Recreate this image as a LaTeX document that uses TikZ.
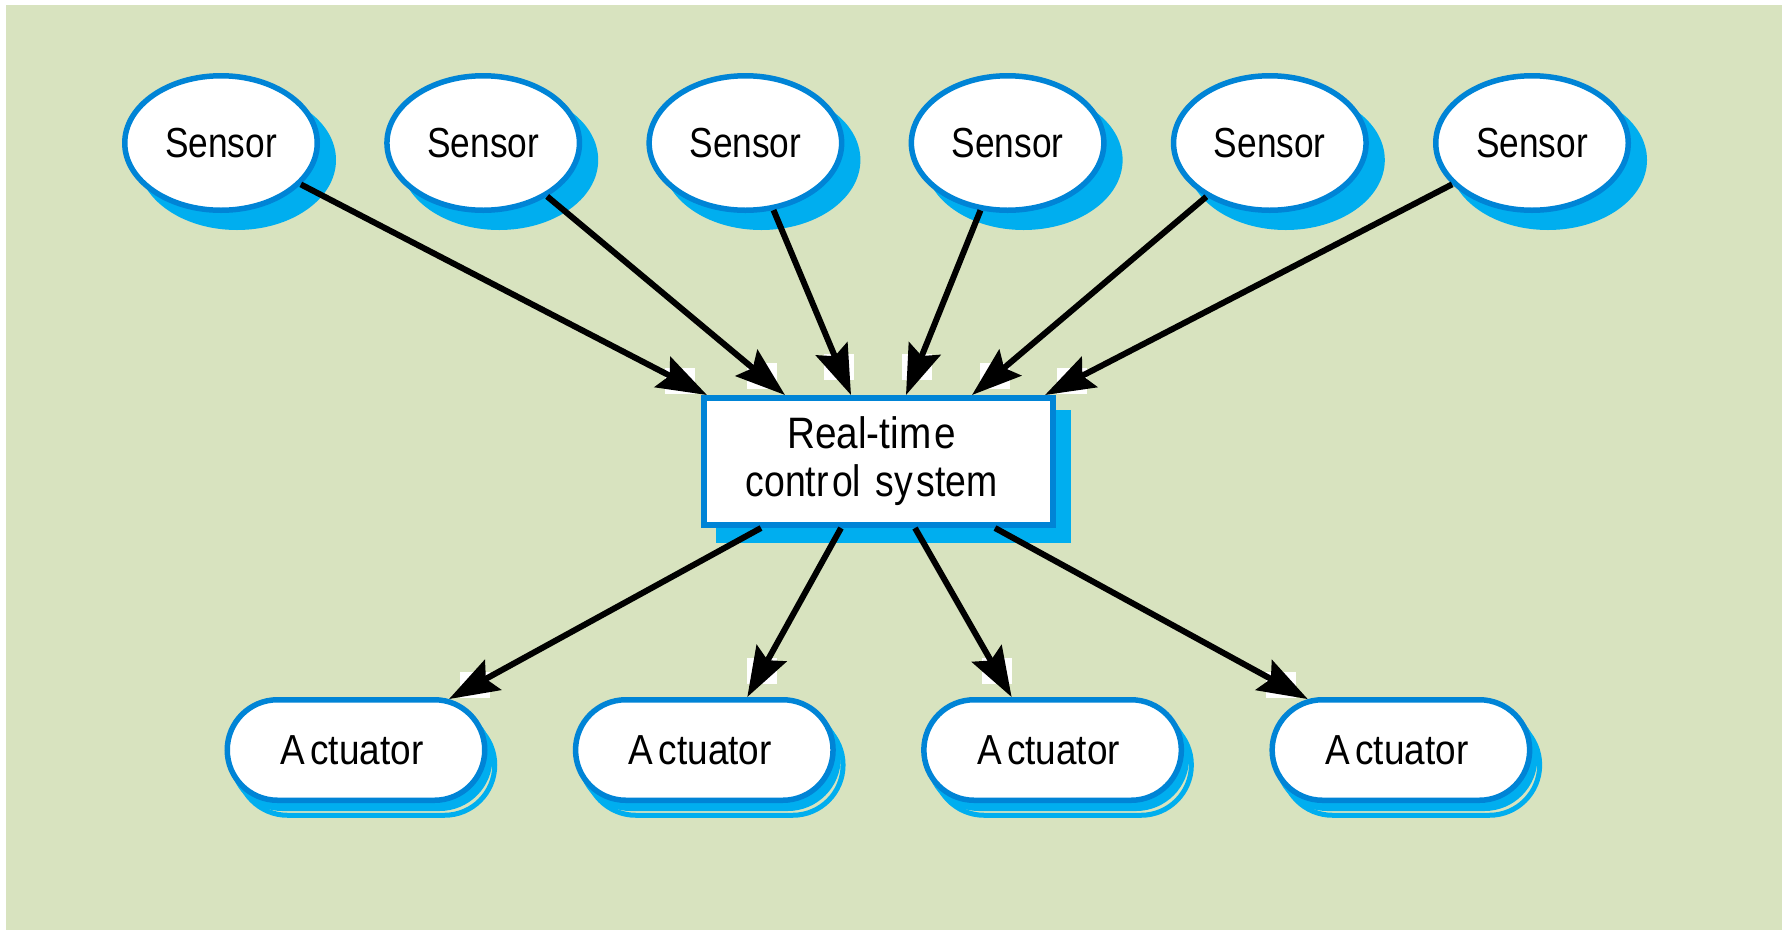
\documentclass[tikz,border=0pt]{standalone}
\usepackage{fontspec}
\setmainfont{Liberation Sans}
\usetikzlibrary{shapes.geometric,shapes.misc,shadows,arrows.meta,decorations.markings,calc}
\definecolor{bggreen}{RGB}{216,227,191}
\definecolor{rimblue}{RGB}{0,132,214}
\definecolor{skycyan}{RGB}{0,174,239}

\begin{document}
\begin{tikzpicture}[x=1pt,y=-1pt,
  sensor/.style={ellipse, draw=rimblue, line width=5.5pt, fill=white,
    minimum width=192.5pt, minimum height=134.5pt, inner sep=0pt,
    font=\fontsize{42}{48}\selectfont,
    general shadow={shadow xshift=16pt, shadow yshift=-17pt,
      fill=skycyan, draw=skycyan, line width=5.5pt}},
  rtbox/.style={rectangle, draw=rimblue, line width=6pt, fill=white,
    minimum width=349pt, minimum height=127pt, inner sep=0pt, align=center,
    font=\fontsize{44}{50}\selectfont,
    general shadow={shadow xshift=15pt, shadow yshift=-15pt,
      fill=skycyan, draw=skycyan, line width=6pt}},
  actuator/.style={rounded rectangle, draw=rimblue, line width=5.5pt, fill=white,
    minimum width=257.5pt, minimum height=100.5pt, inner sep=0pt,
    font=\fontsize{42}{48}\selectfont,
    general shadow={shadow xshift=10pt, shadow yshift=-15pt,
      draw=skycyan, fill=none, line width=5pt},
    general shadow={shadow xshift=5pt, shadow yshift=-8pt,
      fill=skycyan, draw=skycyan, line width=5.5pt}},
  flow/.style={line width=6pt, black,
    -{Stealth[length=50pt, width=34pt, inset=8pt]},
    preaction={decorate, decoration={markings,
      mark=at position 1 with {%
        \begin{scope}[xshift=-30pt]
          \pgftransformresetnontranslations
          \fill[white] (-15pt,-13pt) rectangle (15pt,13pt);
        \end{scope}}}}},
]
\useasboundingbox (0,0) rectangle (1787,930);
\fill[bggreen] (6,5) rectangle (1782,930);

% sensors along the top
\foreach \i/\x in {1/221, 2/483.2, 3/745.4, 4/1007.6, 5/1269.8, 6/1532}
  \node[sensor] (s\i) at (\x,143) {\scalebox{0.84}[1]{Sensor}};

% central controller
\node[rtbox] (box) at (878.5,461.5)
  {\scalebox{0.88}[1]{Real-tim\kern3pt e\kern16pt}\\[-2pt]
   \scalebox{0.85}[1]{contr\kern4pt ol\ \kern5pt sy\kern4pt stem\kern16pt}};

% actuators along the bottom
\foreach \i/\x in {1/356, 2/704.3, 3/1052.6, 4/1400.9}
  \node[actuator] (a\i) at (\x,750) {\scalebox{0.88}[1]{A\kern6pt ctuator\kern9pt}};

% entry points on the top edge, exit points on the bottom edge
\foreach \i/\d in {1/6, 2/84, 3/150, 4/205, 5/271, 6/344}
  \coordinate (t\i) at ([xshift=\d pt]box.north west);
\foreach \i/\d in {1/60, 2/140, 3/214, 4/294}
  \coordinate (b\i) at ([xshift=\d pt]box.south west);

% sensor inputs
\foreach \i in {1,...,6}
  \draw[flow] (s\i) -- (t\i);

% actuator outputs
\draw[flow] (b1) -- (a1);
\draw[flow] (b2) -- ([xshift=43pt]a2.north);
\draw[flow] (b3) -- ([xshift=-41pt]a3.north);
\draw[flow] (b4) -- (a4);
\end{tikzpicture}
\end{document}
